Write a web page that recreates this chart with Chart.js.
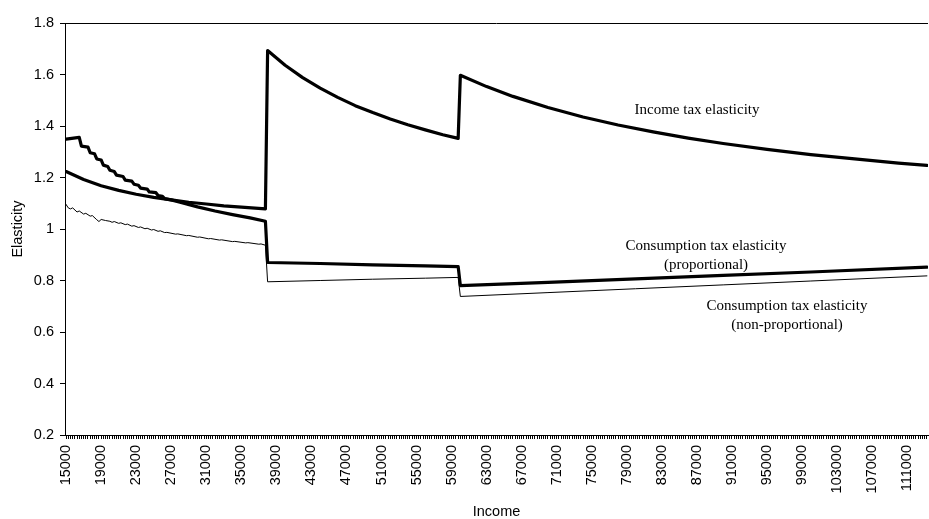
<!DOCTYPE html>
<html><head><meta charset="utf-8">
<script src="https://cdn.jsdelivr.net/npm/chart.js@4"></script>
<style>html,body{margin:0;padding:0;background:#fff}#wrap{width:929px;height:519px;position:relative}</style>
</head><body><div id="wrap"><canvas id="c" width="929" height="519"></canvas></div>
<script>
// ---- data ----
const incomeTaxX = [15000,17000,19000,21000,23000,25000,27000,29000,31000,33000,35000,37750,
  38000,40000,42000,44000,46000,48000,50000,52000,54000,56000,58000,59750,
  60000,63000,66000,70000,74000,78000,82000,86000,90000,95000,100000,105000,110000,113250];
const incomeTaxY = [1.223,1.192,1.168,1.150,1.135,1.123,1.113,1.104,1.097,1.090,1.085,1.078,
  1.693,1.636,1.588,1.547,1.511,1.479,1.452,1.427,1.405,1.385,1.366,1.352,
  1.597,1.553,1.515,1.472,1.435,1.404,1.377,1.353,1.332,1.309,1.289,1.272,1.256,1.247];

const consPropX = [15000,16500,16750,17500,17750,18250,18500,19000,19250,19750,20000,20500,20750,21500,21750,22500,22750,23250,23500,24250,24500,25250,25500,26000,26250,27000,
  28000,30000,32000,34000,36000,37750,
  38000,44000,50000,56000,59750,
  60000,70000,80000,90000,100000,113250];
const consPropY = [1.349,1.356,1.322,1.318,1.296,1.292,1.272,1.268,1.248,1.243,1.228,1.223,1.209,1.204,1.190,1.186,1.174,1.170,1.159,1.155,1.144,1.141,1.130,1.127,1.118,1.113,
  1.104,1.086,1.070,1.056,1.043,1.030,
  0.870,0.866,0.861,0.857,0.854,
  0.780,0.793,0.806,0.820,0.833,0.852];

const consNonPropX = [15000,15250,15500,15750,16250,16500,17000,17250,17750,18000,18500,18750,19000,19500,20000,20250,20500,21000,21250,21750,22000,22500,22750,23250,23500,24000,24250,24750,25000,25500,25750,26250,26500,27500,27750,28750,29000,30000,30250,31250,31500,32500,32750,34000,34250,35500,35750,37000,37250,37750,
  38000,44000,50000,56000,59750,
  60000,70000,80000,90000,100000,113250];
const consNonPropY = [1.095,1.082,1.078,1.082,1.066,1.070,1.058,1.061,1.050,1.052,1.036,1.029,1.037,1.033,1.030,1.026,1.029,1.022,1.024,1.017,1.019,1.011,1.013,1.006,1.008,1.001,1.003,0.996,0.998,0.991,0.993,0.986,0.987,0.980,0.981,0.974,0.975,0.968,0.969,0.962,0.963,0.957,0.958,0.951,0.952,0.946,0.947,0.941,0.942,0.937,
  0.795,0.800,0.805,0.809,0.812,
  0.738,0.753,0.768,0.783,0.798,0.818];

const xTickLabels = ['15000','19000','23000','27000','31000','35000','39000','43000','47000','51000','55000','59000','63000','67000','71000','75000','79000','83000','87000','91000','95000','99000','103000','107000','111000'];
const yTickValues = [0.2,0.4,0.6,0.8,1,1.2,1.4,1.6,1.8];
const yTickLabels = ['0.2','0.4','0.6','0.8','1','1.2','1.4','1.6','1.8'];
const seriesNames = ['Income tax elasticity','Consumption tax elasticity (proportional)','Consumption tax elasticity (non-proportional)'];

// category tick marks every 250
const xTickValues = [];
for (let v = 15000; v <= 113250; v += 250) xTickValues.push(v);

const pts = (xs, ys) => xs.map((x, i) => ({x: x, y: ys[i]}));

// annotation text (pixel layout)
const notes = [
  {lines: ['Income tax elasticity'], cx: 697, cy: 110},
  {lines: ['Consumption tax elasticity', '(proportional)'], cx: 706, cy: 246},
  {lines: ['Consumption tax elasticity', '(non-proportional)'], cx: 787, cy: 306}
];

const notesPlugin = {
  id: 'notes',
  afterDraw(chart) {
    const ctx = chart.ctx, a = chart.chartArea;
    ctx.save();
    ctx.strokeStyle = '#000'; ctx.lineWidth = 1;
    ctx.beginPath(); ctx.moveTo(a.left, a.top + 0.5); ctx.lineTo(a.right, a.top + 0.5); ctx.stroke();
    ctx.fillStyle = '#000';
    ctx.font = '15px "Liberation Serif", "Times New Roman", serif';
    ctx.textAlign = 'center'; ctx.textBaseline = 'middle';
    notes.forEach(n => n.lines.forEach((t, i) => ctx.fillText(t, n.cx, n.cy + i * 19.5)));
    ctx.restore();
  }
};

const axisFont = {family: '"Liberation Sans", Arial, sans-serif', size: 14.5};

new Chart(document.getElementById('c'), {
  type: 'line',
  data: {
    datasets: [
      {label: seriesNames[0], data: pts(incomeTaxX, incomeTaxY), borderColor: '#000', borderWidth: 3.2},
      {label: seriesNames[1], data: pts(consPropX, consPropY), borderColor: '#000', borderWidth: 3.2},
      {label: seriesNames[2], data: pts(consNonPropX, consNonPropY), borderColor: '#000', borderWidth: 1}
    ]
  },
  options: {
    responsive: false, animation: false, devicePixelRatio: 1,
    layout: {padding: {top: 23, right: 1, bottom: 0, left: 0}},
    plugins: {legend: {display: false}, tooltip: {enabled: false}},
    elements: {point: {radius: 0}, line: {tension: 0, borderJoinStyle: 'round', borderCapStyle: 'round'}},
    scales: {
      x: {
        type: 'linear', min: 14875, max: 113375,
        afterBuildTicks: s => { s.ticks = xTickValues.map(v => ({value: v})); },
        afterFit: s => { s.height = 84; s.paddingLeft = 0; s.paddingRight = 0; },
        ticks: {autoSkip: false, maxRotation: 90, minRotation: 90, padding: 6, color: '#000', font: axisFont,
          callback: v => xTickLabels.includes(String(v)) ? String(v) : ''},
        grid: {drawOnChartArea: false, drawTicks: true, tickLength: 4, color: '#000', lineWidth: 1},
        border: {display: true, color: '#000', width: 1},
        title: {display: true, text: 'Income', color: '#000', font: Object.assign({}, axisFont, {lineHeight: 1}), padding: {top: 0, bottom: 0}}
      },
      y: {
        min: 0.2, max: 1.8,
        afterBuildTicks: s => { s.ticks = yTickValues.map(v => ({value: v})); },
        afterFit: s => { s.width = 65; },
        ticks: {padding: 6, color: '#000', font: axisFont,
          callback: v => { const i = yTickValues.indexOf(v); return i >= 0 ? yTickLabels[i] : ''; }},
        grid: {drawOnChartArea: false, drawTicks: true, tickLength: 5, color: '#000', lineWidth: 1},
        border: {display: true, color: '#000', width: 1},
        title: {display: true, text: 'Elasticity', color: '#000', font: Object.assign({}, axisFont, {lineHeight: 1}), padding: {top: 10.5, bottom: 0}}
      }
    }
  },
  plugins: [notesPlugin]
});
</script>
</body></html>
